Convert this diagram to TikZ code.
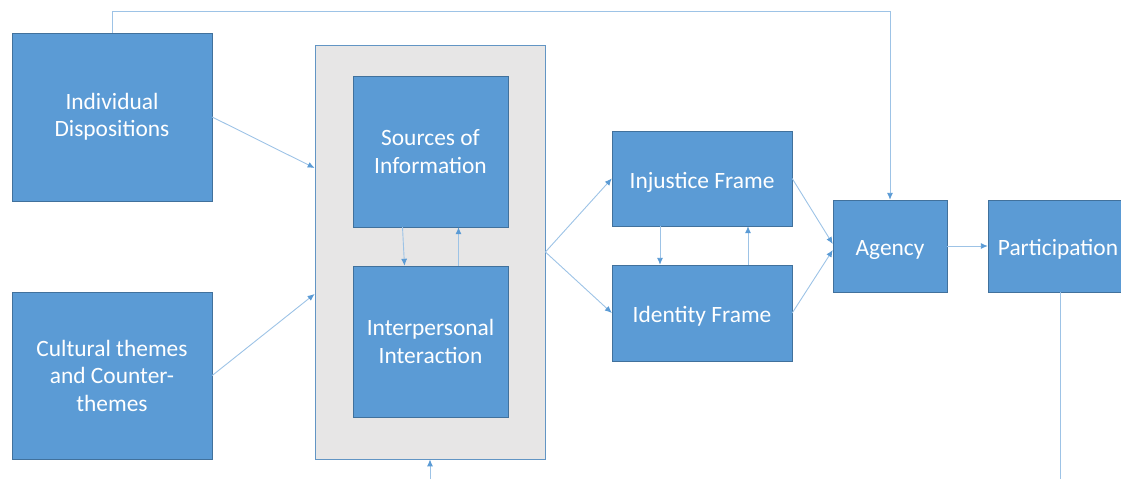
\documentclass[tikz,border=0pt]{standalone}
\usepackage{fontspec}
\setmainfont{Carlito}
\usetikzlibrary{arrows.meta}
\definecolor{boxblue}{HTML}{5B9BD5}
\definecolor{boxedge}{HTML}{41719C}
\definecolor{linkblue}{HTML}{9DC3E6}
\definecolor{panelgray}{HTML}{E7E6E6}
\tikzset{
  block/.style = {draw=boxedge, fill=boxblue, text=white, align=center,
    font=\fontsize{23.4}{27.5}\selectfont, inner sep=0pt,
    execute at begin node={\rule{0pt}{23.5pt}}},
  panel/.style = {draw=boxblue!80!gray, fill=panelgray, line width=0.8pt},
  link/.style = {draw=linkblue, line width=0.9pt}
}
\tikzset{>={Latex[length=7pt,width=6pt,color=boxblue]}}

\begin{document}
\begin{tikzpicture}[x=1pt,y=-1pt]
  \useasboundingbox (0,0) rectangle (1121,479);
  \clip (0,0) rectangle (1121,479);
  \node (cont) at (430,252) [panel, minimum width=230, minimum height=414] {};
  \node (indiv) at (112,117) [block, minimum width=200, minimum height=168] {Individual\\Dispositions};
  \node (cult) at (112,375.5) [block, minimum width=200, minimum height=167] {Cultural themes\\and Counter-\\themes};
  \node (src) at (430.5,151.5) [block, minimum width=155, minimum height=151] {Sources of\\Information};
  \node (inter) at (430.5,341.5) [block, minimum width=155, minimum height=151] {Interpersonal\\Interaction};
  \node (inj) at (702,178.5) [block, minimum width=180, minimum height=95] {Injustice Frame};
  \node (ident) at (702,313) [block, minimum width=180, minimum height=96] {Identity Frame};
  \node (agency) at (890,246) [block, minimum width=114, minimum height=92] {Agency};
  \node (part) at (1058,246) [block, minimum width=140, minimum height=92] {Participation};
  \coordinate (top) at (0,11);
  \coordinate (bot) at (0,479);
  \draw[link,->] (indiv.north) -- (indiv.north |- top) -| (agency.north);
  \draw[link,->] (indiv.east) -- ([yshift=84pt]cont.west);
  \draw[link,->] (cult.east) -- ([yshift=-42pt]cont.west);
  \draw[link,->] ([xshift=-28pt]src.south) -- ([xshift=-26pt]inter.north);
  \draw[link,->] ([xshift=28pt]inter.north) -- ([xshift=28pt]src.south);
  \draw[link,->] (cont.east) -- (inj.west);
  \draw[link,->] (cont.east) -- (ident.west);
  \draw[link,->] ([xshift=-42pt]inj.south) -- ([xshift=-42pt]ident.north);
  \draw[link,->] ([xshift=46pt]ident.north) -- ([xshift=46pt]inj.south);
  \draw[link,->] (inj.east) -- ([yshift=2pt]agency.west);
  \draw[link,->] (ident.east) -- ([yshift=-4pt]agency.west);
  \draw[link,->] (agency.east) -- (part.west);
  \draw[link] ([xshift=2pt]part.south) -- ([xshift=2pt]part.south |- bot);
  \draw[link,->] (cont.south |- bot) -- (cont.south);
\end{tikzpicture}
\end{document}
